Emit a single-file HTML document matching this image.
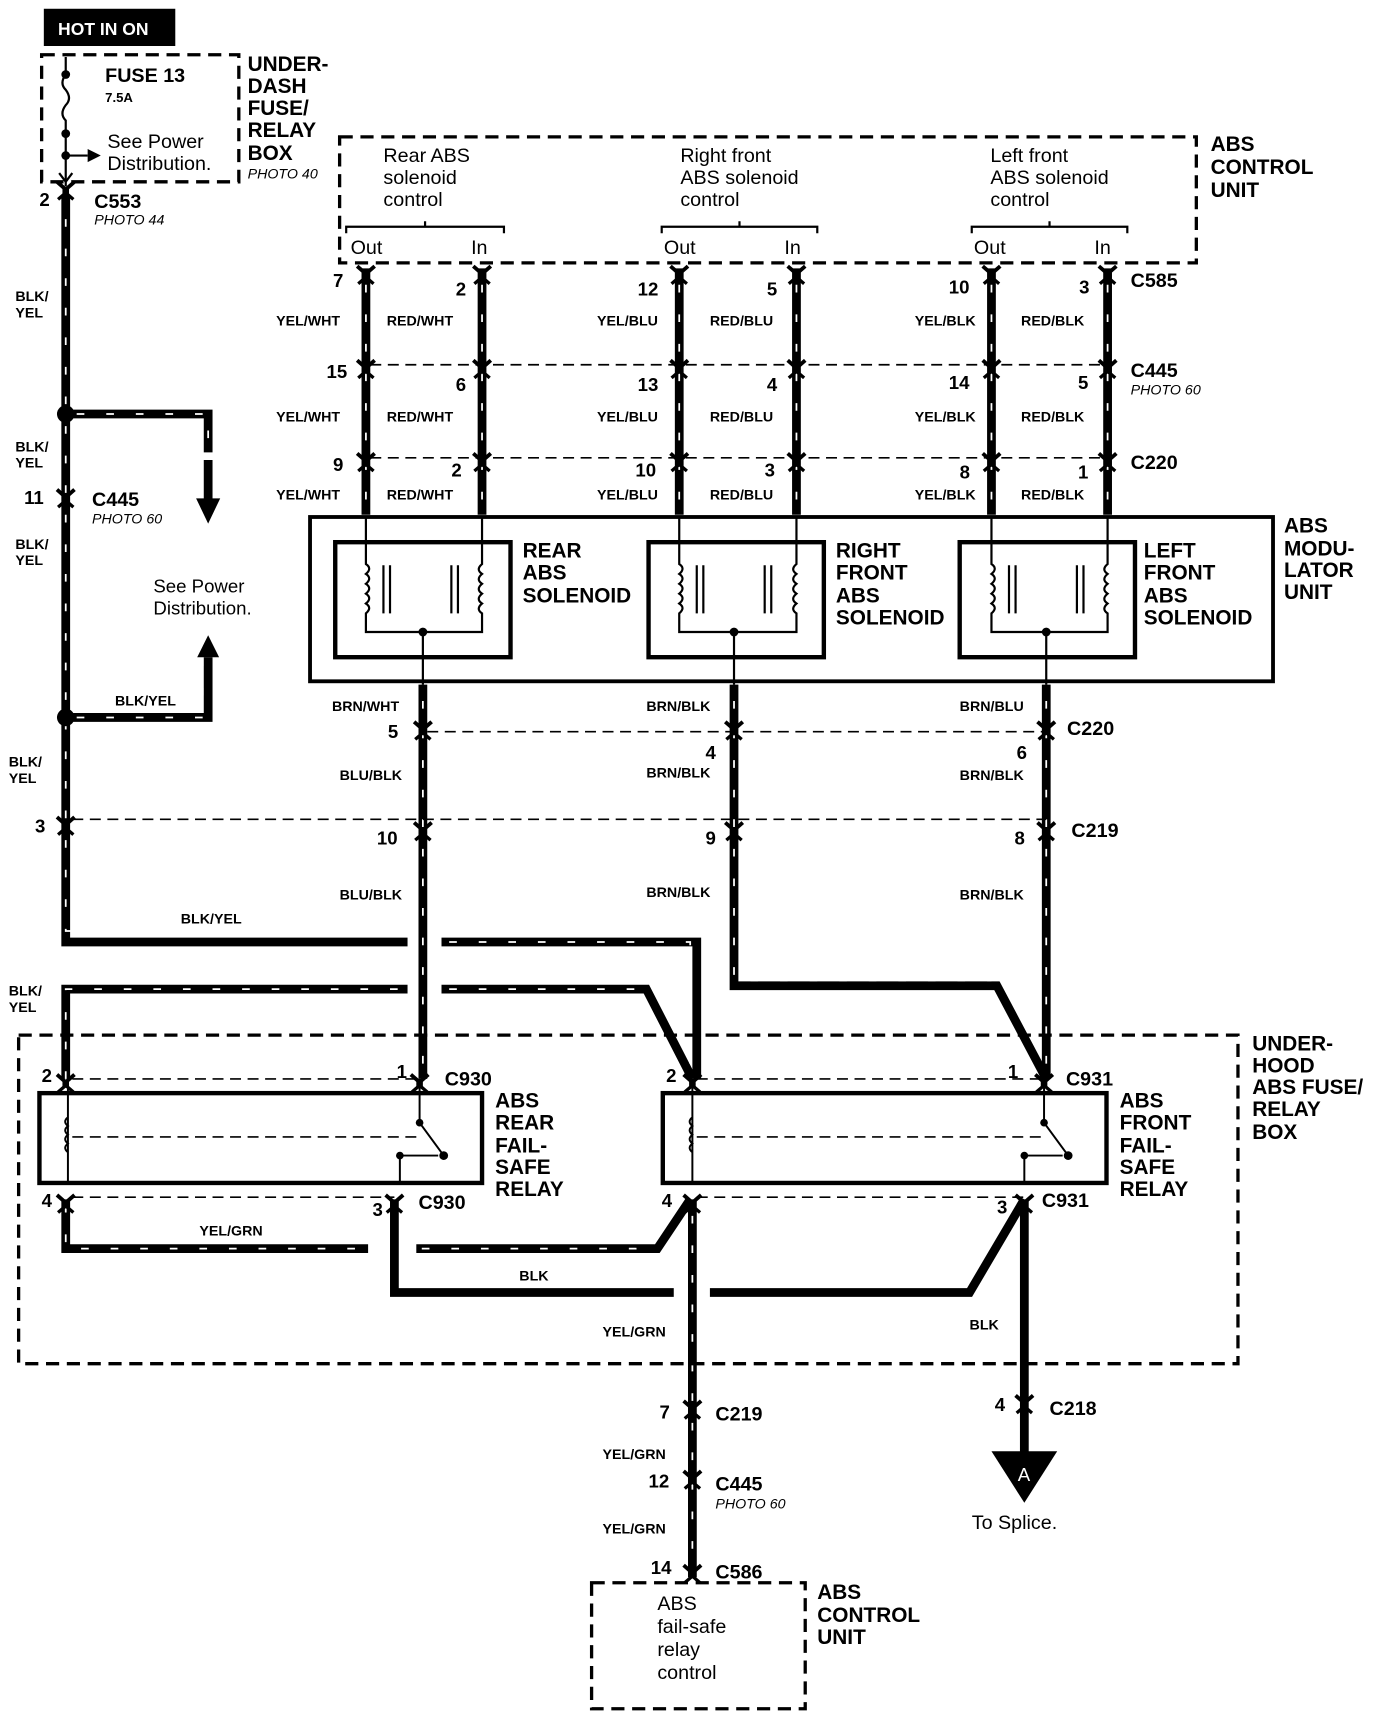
<!DOCTYPE html>
<html><head><meta charset="utf-8"><style>
html,body{margin:0;padding:0;background:#fff}
svg{display:block}
text{font-family:"Liberation Sans",sans-serif;fill:#000}
.b{font-weight:bold}
.t19{font-size:19px;font-weight:bold}
.t18{font-size:18px}
.w{font-size:13px;font-weight:bold}
.n{font-size:17px;font-weight:bold}
.i{font-size:13px;font-style:italic}
</style></head><body>
<svg width="1376" height="1712" viewBox="0 0 1256 1563" preserveAspectRatio="none" xmlns="http://www.w3.org/2000/svg">
<defs>
<g id="cn"><path d="M-8,-9 L0,-2 L8,-9" fill="none" stroke="#000" stroke-width="3.5"/><path d="M-7,7 L0,1 L7,7" fill="none" stroke="#000" stroke-width="3"/><path d="M0,-3 V3" stroke="#000" stroke-width="6"/></g>
</defs>
<rect width="1256" height="1563" fill="#fff"/>
<rect x="40" y="8" width="120" height="34" fill="#000"/>
<text x="53" y="32" style="font-size:16px;fill:#fff;font-weight:bold" fill="#fff">HOT IN ON</text>
<rect x="38" y="50" width="180" height="116" fill="none" stroke="#000" stroke-width="3" stroke-dasharray="12 7"/>
<path d="M60,52 V68 M60,68 q-6,8 0,14 q6,8 0,14 q-6,8 0,14 V142 V170" fill="none" stroke="#000" stroke-width="2"/>
<circle cx="60" cy="68" r="4"/><circle cx="60" cy="122" r="4"/><circle cx="60" cy="142" r="4"/>
<path d="M60,142 H80" stroke="#000" stroke-width="2"/><path d="M80,136 L92,142 L80,148Z"/>
<path d="M54,158 L60,166 L66,158" fill="none" stroke="#000" stroke-width="2"/>
<text x="96" y="75" class="t19" style="font-size:18px">FUSE 13</text>
<text x="96" y="93" class="b" style="font-size:12px">7.5A</text>
<text x="98" y="135" class="t18">See Power</text>
<text x="98" y="155" class="t18">Distribution.</text>
<text x="226" y="65" class="t19">UNDER-</text><text x="226" y="85" class="t19">DASH</text><text x="226" y="105" class="t19">FUSE/</text><text x="226" y="125" class="t19">RELAY</text><text x="226" y="146" class="t19">BOX</text>
<text x="226" y="163" class="i">PHOTO 40</text>
<text x="36" y="188" class="n">2</text><text x="86" y="190" class="t19" style="font-size:18px">C553</text><text x="86" y="205" class="i">PHOTO 44</text>
<g fill="none" stroke="#000" stroke-width="8" stroke-linejoin="miter">
<path d="M60,178 V860 H372"/>
<path d="M403,860 H636 V985"/>
<path d="M60,378 H190 V413 M190,420 V458"/>
<path d="M60,655 H190 V600"/>
<path d="M60,985 V903 H372"/>
<path d="M403,903 H590 L632,985"/>
<path d="M670,625 V900 H910 L955,985"/>
<path d="M955,625 V985"/>
<path d="M386,625 V985"/>
<path d="M334,245 V470 M440,245 V470 M620,245 V470 M727,245 V470 M905,245 V470 M1011,245 V470"/>
<path d="M60,1095 V1140 H336"/>
<path d="M380,1140 H600 L630,1095"/>
<path d="M360,1095 V1180 H615"/>
<path d="M648,1180 H885 L935,1095"/>
<path d="M632,1095 V1440"/>
<path d="M935,1095 V1330"/>
</g>
<g fill="none" stroke="#fff" stroke-width="1.6" stroke-dasharray="7 20">
<path d="M60,200 V850 H372"/><path d="M410,860 H630 V980"/><path d="M70,378 H190 V410"/><path d="M70,655 H185 V600"/>
<path d="M60,985 V903 H372"/><path d="M410,903 H588"/><path d="M670,640 V895 H905"/>
<path d="M955,640 V980"/><path d="M386,640 V980"/>
<path d="M334,260 V468 M440,260 V468 M620,260 V468 M727,260 V468 M905,260 V468 M1011,260 V468"/>
<path d="M60,1100 V1140 H336"/><path d="M385,1140 H598"/><path d="M632,1110 V1435"/>
</g>
<circle cx="60" cy="378" r="8"/><circle cx="60" cy="655" r="8"/>
<path d="M179,455 L201,455 L190,478Z"/><path d="M180,600 L200,600 L190,580Z"/>
<text x="14" y="275" class="w">BLK/</text><text x="14" y="290" class="w">YEL</text>
<text x="14" y="412" class="w">BLK/</text><text x="14" y="427" class="w">YEL</text>
<text x="14" y="501" class="w">BLK/</text><text x="14" y="516" class="w">YEL</text>
<text x="8" y="700" class="w">BLK/</text><text x="8" y="715" class="w">YEL</text>
<text x="8" y="909" class="w">BLK/</text><text x="8" y="924" class="w">YEL</text>
<text x="105" y="644" class="w">BLK/YEL</text><text x="165" y="843" class="w">BLK/YEL</text>
<text x="140" y="541" class="t18" style="font-size:17px">See Power</text><text x="140" y="561" class="t18" style="font-size:17px">Distribution.</text>
<use href="#cn" x="60" y="175"/><use href="#cn" x="60" y="456"/><use href="#cn" x="60" y="755"/>
<text x="22" y="460" class="n">11</text><text x="84" y="462" class="t19" style="font-size:18px">C445</text><text x="84" y="478" class="i">PHOTO 60</text>
<text x="32" y="760" class="n">3</text>
<rect x="310" y="125" width="782" height="115" fill="none" stroke="#000" stroke-width="3" stroke-dasharray="12 7"/>
<text x="350" y="148" class="t18">Rear ABS</text><text x="350" y="168" class="t18">solenoid</text><text x="350" y="188" class="t18">control</text>
<text x="621" y="148" class="t18">Right  front</text><text x="621" y="168" class="t18">ABS solenoid</text><text x="621" y="188" class="t18">control</text>
<text x="904" y="148" class="t18">Left  front</text><text x="904" y="168" class="t18">ABS solenoid</text><text x="904" y="188" class="t18">control</text>
<g fill="none" stroke="#000" stroke-width="2">
<path d="M316,213 V207 H460 V213 M388,207 V202"/>
<path d="M604,213 V207 H746 V213 M675,207 V202"/>
<path d="M887,213 V207 H1029 V213 M958,207 V202"/>
</g>
<text x="320" y="232" class="t18">Out</text><text x="430" y="232" class="t18">In</text>
<text x="606" y="232" class="t18">Out</text><text x="716" y="232" class="t18">In</text>
<text x="889" y="232" class="t18">Out</text><text x="999" y="232" class="t18">In</text>
<text x="1105" y="138" class="t19">ABS</text><text x="1105" y="159" class="t19">CONTROL</text><text x="1105" y="180" class="t19">UNIT</text>
<g fill="none" stroke="#000" stroke-width="1.5" stroke-dasharray="10 6">
<path d="M338,333 H1011"/><path d="M338,418 H1011"/><path d="M390,668 H955"/><path d="M66,748 H955"/>
<path d="M66,985 H383 M66,1093 H360 M636,985 H953 M636,1093 H935"/>
</g>
<g>
<use href="#cn" x="334" y="252"/><use href="#cn" x="440" y="252"/><use href="#cn" x="620" y="252"/><use href="#cn" x="727" y="252"/><use href="#cn" x="905" y="252"/><use href="#cn" x="1011" y="252"/>
<use href="#cn" x="334" y="338"/><use href="#cn" x="440" y="338"/><use href="#cn" x="620" y="338"/><use href="#cn" x="727" y="338"/><use href="#cn" x="905" y="338"/><use href="#cn" x="1011" y="338"/>
<use href="#cn" x="334" y="423"/><use href="#cn" x="440" y="423"/><use href="#cn" x="620" y="423"/><use href="#cn" x="727" y="423"/><use href="#cn" x="905" y="423"/><use href="#cn" x="1011" y="423"/>
<use href="#cn" x="386" y="668"/><use href="#cn" x="670" y="668"/><use href="#cn" x="955" y="668"/>
<use href="#cn" x="386" y="760"/><use href="#cn" x="670" y="760"/><use href="#cn" x="955" y="760"/>
<use href="#cn" x="632" y="1288"/><use href="#cn" x="632" y="1352"/><use href="#cn" x="632" y="1438"/><use href="#cn" x="935" y="1283"/>
</g>
<g class="n">
<text x="304" y="262">7</text><text x="416" y="270">2</text><text x="582" y="270">12</text><text x="700" y="270">5</text><text x="866" y="268">10</text><text x="985" y="268">3</text>
<text x="298" y="345">15</text><text x="416" y="357">6</text><text x="582" y="357">13</text><text x="700" y="357">4</text><text x="866" y="355">14</text><text x="984" y="355">5</text>
<text x="304" y="430">9</text><text x="412" y="435">2</text><text x="580" y="435">10</text><text x="698" y="435">3</text><text x="876" y="437">8</text><text x="984" y="437">1</text>
<text x="354" y="674">5</text><text x="644" y="693">4</text><text x="928" y="693">6</text>
<text x="344" y="771">10</text><text x="644" y="771">9</text><text x="926" y="771">8</text>
</g>
<text x="1032" y="262" class="t19" style="font-size:18px">C585</text>
<text x="1032" y="344" class="t19" style="font-size:18px">C445</text><text x="1032" y="360" class="i">PHOTO 60</text>
<text x="1032" y="428" class="t19" style="font-size:18px">C220</text>
<text x="974" y="671" class="t19" style="font-size:18px">C220</text>
<text x="978" y="764" class="t19" style="font-size:18px">C219</text>
<g class="w">
<text x="252" y="297">YEL/WHT</text><text x="353" y="297">RED/WHT</text><text x="545" y="297">YEL/BLU</text><text x="648" y="297">RED/BLU</text><text x="835" y="297">YEL/BLK</text><text x="932" y="297">RED/BLK</text>
<text x="252" y="385">YEL/WHT</text><text x="353" y="385">RED/WHT</text><text x="545" y="385">YEL/BLU</text><text x="648" y="385">RED/BLU</text><text x="835" y="385">YEL/BLK</text><text x="932" y="385">RED/BLK</text>
<text x="252" y="456">YEL/WHT</text><text x="353" y="456">RED/WHT</text><text x="545" y="456">YEL/BLU</text><text x="648" y="456">RED/BLU</text><text x="835" y="456">YEL/BLK</text><text x="932" y="456">RED/BLK</text>
<text x="303" y="649">BRN/WHT</text><text x="590" y="649">BRN/BLK</text><text x="876" y="649">BRN/BLU</text>
<text x="310" y="712">BLU/BLK</text><text x="590" y="710">BRN/BLK</text><text x="876" y="712">BRN/BLK</text>
<text x="310" y="821">BLU/BLK</text><text x="590" y="819">BRN/BLK</text><text x="876" y="821">BRN/BLK</text>
</g>
<rect x="283" y="472" width="879" height="150" fill="none" stroke="#000" stroke-width="3.5"/>
<g fill="none" stroke="#000" stroke-width="4">
<rect x="306" y="495" width="160" height="105"/><rect x="592" y="495" width="160" height="105"/><rect x="876" y="495" width="160" height="105"/>
</g>
<g fill="none" stroke="#000" stroke-width="2">
<path d="M334,472 V515 q6,4 0,9 q6,4 0,9 q6,4 0,9 q6,4 0,9 q6,4 0,9 V577 H440 V560 q-6,-4 0,-9 q-6,-4 0,-9 q-6,-4 0,-9 q-6,-4 0,-9 q-6,-4 0,-9 V472 M386,577 V625 M350,516 V560 M356,516 V560 M412,516 V560 M418,516 V560"/>
<path d="M620,472 V515 q6,4 0,9 q6,4 0,9 q6,4 0,9 q6,4 0,9 q6,4 0,9 V577 H727 V560 q-6,-4 0,-9 q-6,-4 0,-9 q-6,-4 0,-9 q-6,-4 0,-9 q-6,-4 0,-9 V472 M670,577 V625 M636,516 V560 M642,516 V560 M698,516 V560 M704,516 V560"/>
<path d="M905,472 V515 q6,4 0,9 q6,4 0,9 q6,4 0,9 q6,4 0,9 q6,4 0,9 V577 H1011 V560 q-6,-4 0,-9 q-6,-4 0,-9 q-6,-4 0,-9 q-6,-4 0,-9 q-6,-4 0,-9 V472 M955,577 V625 M921,516 V560 M927,516 V560 M983,516 V560 M989,516 V560"/>
</g>
<circle cx="386" cy="577" r="4"/><circle cx="670" cy="577" r="4"/><circle cx="955" cy="577" r="4"/>
<text x="477" y="509" class="t19">REAR</text><text x="477" y="529" class="t19">ABS</text><text x="477" y="550" class="t19">SOLENOID</text>
<text x="763" y="509" class="t19">RIGHT</text><text x="763" y="529" class="t19">FRONT</text><text x="763" y="550" class="t19">ABS</text><text x="763" y="570" class="t19">SOLENOID</text>
<text x="1044" y="509" class="t19">LEFT</text><text x="1044" y="529" class="t19">FRONT</text><text x="1044" y="550" class="t19">ABS</text><text x="1044" y="570" class="t19">SOLENOID</text>
<text x="1172" y="486" class="t19">ABS</text><text x="1172" y="507" class="t19">MODU-</text><text x="1172" y="527" class="t19">LATOR</text><text x="1172" y="547" class="t19">UNIT</text>
<rect x="17" y="945" width="1113" height="300" fill="none" stroke="#000" stroke-width="3" stroke-dasharray="12 7"/>
<text x="1143" y="959" class="t19">UNDER-</text><text x="1143" y="979" class="t19">HOOD</text><text x="1143" y="999" class="t19">ABS FUSE/</text><text x="1143" y="1019" class="t19">RELAY</text><text x="1143" y="1040" class="t19">BOX</text>
<g fill="none" stroke="#000" stroke-width="4"><rect x="36" y="998" width="404" height="82"/><rect x="605" y="998" width="405" height="82"/></g>
<g fill="none" stroke="#000" stroke-width="1.8">
<path d="M62,985 V1080 M62,1020 q-5,4 0,8 q-5,4 0,8 q-5,4 0,8 q-5,4 0,8"/>
<path d="M383,985 V1025 L405,1055 M365,1055 V1080 M365,1055 H400"/>
<path d="M632,985 V1080 M632,1020 q-5,4 0,8 q-5,4 0,8 q-5,4 0,8 q-5,4 0,8"/>
<path d="M953,985 V1025 L975,1055 M935,1055 V1080 M935,1055 H970"/>
</g>
<path d="M66,1038 H380 M636,1038 H955" stroke="#000" stroke-width="1.5" stroke-dasharray="10 6"/>
<circle cx="383" cy="1025" r="3.5"/><circle cx="405" cy="1055" r="4"/><circle cx="365" cy="1055" r="3.5"/>
<circle cx="953" cy="1025" r="3.5"/><circle cx="975" cy="1055" r="4"/><circle cx="935" cy="1055" r="3.5"/>
<use href="#cn" x="60" y="990"/><use href="#cn" x="383" y="990"/><use href="#cn" x="632" y="990"/><use href="#cn" x="953" y="990"/>
<use href="#cn" x="60" y="1100"/><use href="#cn" x="360" y="1100"/><use href="#cn" x="632" y="1100"/><use href="#cn" x="935" y="1100"/>
<g class="n"><text x="38" y="988">2</text><text x="362" y="984">1</text><text x="608" y="988">2</text><text x="920" y="984">1</text>
<text x="38" y="1102">4</text><text x="340" y="1110">3</text><text x="604" y="1102">4</text><text x="910" y="1108">3</text>
<text x="602" y="1295">7</text><text x="592" y="1358">12</text><text x="594" y="1437">14</text><text x="908" y="1288">4</text></g>
<text x="406" y="991" class="t19" style="font-size:18px">C930</text><text x="382" y="1104" class="t19" style="font-size:18px">C930</text>
<text x="973" y="991" class="t19" style="font-size:18px">C931</text><text x="951" y="1102" class="t19" style="font-size:18px">C931</text>
<text x="452" y="1011" class="t19">ABS</text><text x="452" y="1031" class="t19">REAR</text><text x="452" y="1052" class="t19">FAIL-</text><text x="452" y="1072" class="t19">SAFE</text><text x="452" y="1092" class="t19">RELAY</text>
<text x="1022" y="1011" class="t19">ABS</text><text x="1022" y="1031" class="t19">FRONT</text><text x="1022" y="1052" class="t19">FAIL-</text><text x="1022" y="1072" class="t19">SAFE</text><text x="1022" y="1092" class="t19">RELAY</text>
<text x="182" y="1128" class="w">YEL/GRN</text><text x="474" y="1169" class="w">BLK</text><text x="550" y="1220" class="w">YEL/GRN</text><text x="885" y="1214" class="w">BLK</text>
<text x="550" y="1332" class="w">YEL/GRN</text><text x="550" y="1400" class="w">YEL/GRN</text>
<text x="653" y="1297" class="t19" style="font-size:18px">C219</text><text x="653" y="1361" class="t19" style="font-size:18px">C445</text><text x="653" y="1377" class="i">PHOTO 60</text>
<text x="653" y="1441" class="t19" style="font-size:18px">C586</text><text x="958" y="1292" class="t19" style="font-size:18px">C218</text>
<path d="M905,1325 H965 L935,1372Z"/><text x="929" y="1352" style="font-size:17px;fill:#fff" fill="#fff">A</text>
<text x="887" y="1396" class="t18">To Splice.</text>
<rect x="540" y="1445" width="195" height="115" fill="none" stroke="#000" stroke-width="3" stroke-dasharray="12 7"/>
<text x="600" y="1470" class="t18">ABS</text><text x="600" y="1491" class="t18">fail-safe</text><text x="600" y="1512" class="t18">relay</text><text x="600" y="1533" class="t18">control</text>
<text x="746" y="1460" class="t19">ABS</text><text x="746" y="1481" class="t19">CONTROL</text><text x="746" y="1501" class="t19">UNIT</text>
</svg>
</body></html>
